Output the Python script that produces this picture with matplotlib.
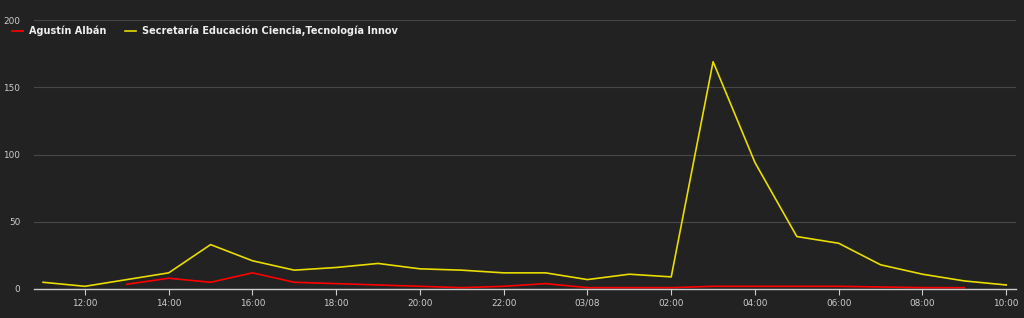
import matplotlib
matplotlib.use("Agg")
import matplotlib.pyplot as plt
import matplotlib.dates as mdates
import numpy as np
from datetime import datetime, timedelta

# horas de 02/08 11:00 a 03/08 10:00
inicio = datetime(2020, 8, 2, 11)
horas = [inicio + timedelta(hours=h) for h in range(24)]

educacion = [5, 2, 7, 12, 33, 21, 14, 16, 19, 15, 14, 12,
             12, 7, 11, 9, 169, 94, 39, 34, 18, 11, 6, 3]
# Agustín Albán: de 13:00 a 09:00
alban_horas = horas[2:23]
alban = [3.5, 8, 5, 12, 5, 4, 3, 2, 1, 2, 4,
         1, 1, 1, 2, 2, 2, 2, 1.5, 1, 1]

series = ["Agustín Albán", "Secretaría Educación Ciencia,Tecnología Innov"]
colores = ["#ff0000", "#e8dc00"]

bg = "#222222"
fig = plt.figure(figsize=(10.24, 3.18), dpi=100, facecolor=bg)
ax = fig.add_axes([34/1024, 29/318, 982/1024, 269/318], facecolor=bg)

l1, = ax.plot(alban_horas, alban, color=colores[0], lw=1.2)
l2, = ax.plot(horas, educacion, color=colores[1], lw=1.2)

ax.set_ylim(0, 200)
ax.set_yticks([0, 50, 100, 150, 200])
ax.set_xlim(inicio - timedelta(minutes=13), inicio + timedelta(hours=23, minutes=14))
ax.grid(axis="y", color="#474747", lw=0.8)
ax.set_axisbelow(True)

ax.xaxis.set_major_locator(mdates.HourLocator(byhour=range(0, 24, 2)))

def fmt(x, pos):
    d = mdates.num2date(x)
    if d.hour == 0:
        return d.strftime("%d/%m")
    return d.strftime("%H:%M")

ax.xaxis.set_major_formatter(plt.FuncFormatter(fmt))

for s in ["top", "right", "left"]:
    ax.spines[s].set_visible(False)
ax.spines["bottom"].set_color("#cccccc")
ax.spines["bottom"].set_linewidth(1)
ax.tick_params(axis="x", colors="#cccccc", labelsize=6.4, length=4, width=0.8, pad=3)
ax.tick_params(axis="y", colors="#cccccc", labelsize=6.4, length=0, pad=10)

leg = fig.legend([l1, l2], series, loc="upper left", bbox_to_anchor=(0.003, 0.947),
                 frameon=False, ncol=2, handlelength=1.2, handletextpad=0.55,
                 columnspacing=1.9, prop={"size": 7.0, "weight": "bold"})
for t in leg.get_texts():
    t.set_color("#eeeeee")

fig.savefig("out.png", dpi=100, facecolor=bg)
